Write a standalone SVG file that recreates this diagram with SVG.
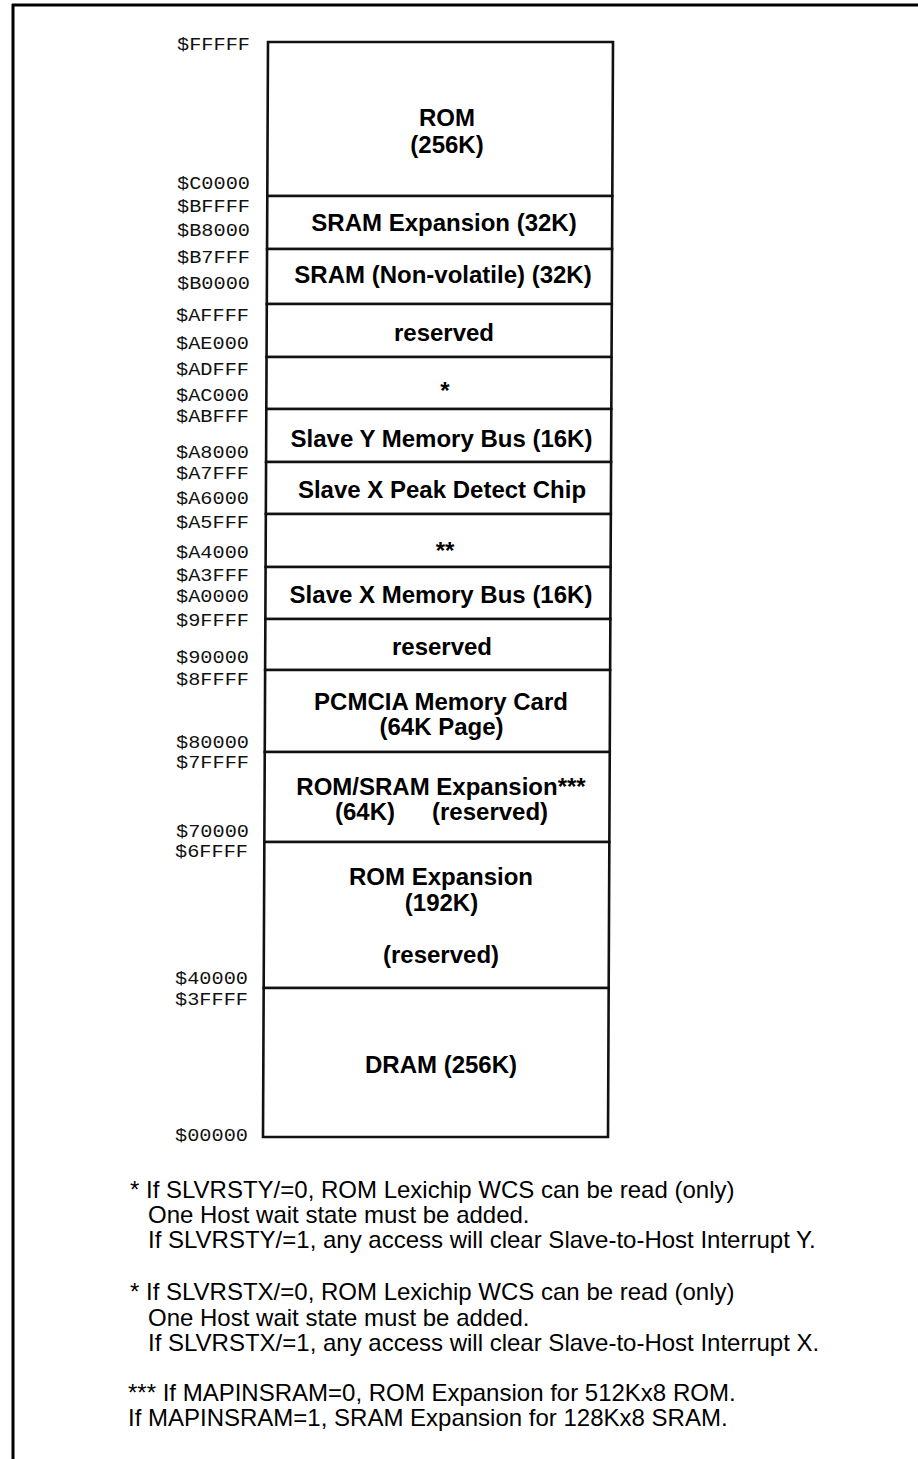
<svg xmlns="http://www.w3.org/2000/svg" width="918" height="1459" viewBox="0 0 918 1459">
<style>
.frame{stroke:#000;stroke-width:3;fill:none}
.reg{fill:#fff;stroke:#111;stroke-width:2.6;stroke-linejoin:miter}
.lbl{font-family:"Liberation Sans",Arial,sans-serif;font-weight:bold;font-size:24px;fill:#000;text-anchor:middle}
.addr{font-family:"Liberation Mono","Courier New",monospace;font-size:18px;fill:#111;text-anchor:end}
.note{font-family:"Liberation Sans",Arial,sans-serif;font-size:24px;fill:#000}
</style>
<rect width="918" height="1459" fill="#fff"/>
<g id="frame">
<line class="frame" x1="12" y1="5" x2="918" y2="5"/>
<line class="frame" x1="13" y1="4" x2="13" y2="1459"/>
</g>
<g id="connectors"></g>
<g id="n-rom"><polygon class="reg" points="268,42 613,42 612.3,196 267.3,196"/>
<text class="lbl" x="447" y="126">ROM</text><text class="lbl" x="447" y="153">(256K)</text></g>
<g id="n-sram-exp"><polygon class="reg" points="267.3,196 612.3,196 612.05,249 267.05,249"/>
<text class="lbl" x="444" y="231">SRAM Expansion (32K)</text></g>
<g id="n-sram-nv"><polygon class="reg" points="267.05,249 612.05,249 611.8,304 266.8,304"/>
<text class="lbl" x="443" y="283">SRAM (Non-volatile) (32K)</text></g>
<g id="n-reserved1"><polygon class="reg" points="266.8,304 611.8,304 611.56,357 266.56,357"/>
<text class="lbl" x="444" y="341">reserved</text></g>
<g id="n-star1"><polygon class="reg" points="266.56,357 611.56,357 611.32,409 266.32,409"/>
<text class="lbl" x="445" y="399">*</text></g>
<g id="n-slave-y"><polygon class="reg" points="266.32,409 611.32,409 611.08,462 266.08,462"/>
<text class="lbl" x="441.5" y="447">Slave Y Memory Bus (16K)</text></g>
<g id="n-peak"><polygon class="reg" points="266.08,462 611.08,462 610.84,514 265.84,514"/>
<text class="lbl" x="442" y="498">Slave X Peak Detect Chip</text></g>
<g id="n-star2"><polygon class="reg" points="265.84,514 610.84,514 610.6,567 265.6,567"/>
<text class="lbl" x="445" y="559">**</text></g>
<g id="n-slave-x"><polygon class="reg" points="265.6,567 610.6,567 610.37,619 265.37,619"/>
<text class="lbl" x="441" y="603">Slave X Memory Bus (16K)</text></g>
<g id="n-reserved2"><polygon class="reg" points="265.37,619 610.37,619 610.13,670 265.13,670"/>
<text class="lbl" x="442" y="655">reserved</text></g>
<g id="n-pcmcia"><polygon class="reg" points="265.13,670 610.13,670 609.76,752 264.76,752"/>
<text class="lbl" x="441" y="710">PCMCIA Memory Card</text><text class="lbl" x="441.5" y="735">(64K Page)</text></g>
<g id="n-romsram"><polygon class="reg" points="264.76,752 609.76,752 609.35,842 264.35,842"/>
<text class="lbl" x="441" y="795">ROM/SRAM Expansion***</text>
<text class="lbl" y="820" style="text-anchor:start"><tspan x="335">(64K)</tspan><tspan x="432">(reserved)</tspan></text></g>
<g id="n-romexp"><polygon class="reg" points="264.35,842 609.35,842 608.68,988 263.68,988"/>
<text class="lbl" x="441" y="885">ROM Expansion</text><text class="lbl" x="441.5" y="911">(192K)</text><text class="lbl" x="441" y="963">(reserved)</text></g>
<g id="n-dram"><polygon class="reg" points="263.68,988 608.68,988 608,1137 263,1137"/>
<text class="lbl" x="441" y="1073">DRAM (256K)</text></g>
<g id="addresses">
<text class="addr" x="250" y="50" textLength="73" lengthAdjust="spacingAndGlyphs">$FFFFF</text>
<text class="addr" x="250" y="189" textLength="73" lengthAdjust="spacingAndGlyphs">$C0000</text>
<text class="addr" x="250" y="212" textLength="73" lengthAdjust="spacingAndGlyphs">$BFFFF</text>
<text class="addr" x="250" y="236" textLength="73" lengthAdjust="spacingAndGlyphs">$B8000</text>
<text class="addr" x="250" y="263" textLength="73" lengthAdjust="spacingAndGlyphs">$B7FFF</text>
<text class="addr" x="250" y="289" textLength="73" lengthAdjust="spacingAndGlyphs">$B0000</text>
<text class="addr" x="249" y="321" textLength="73" lengthAdjust="spacingAndGlyphs">$AFFFF</text>
<text class="addr" x="249" y="349" textLength="73" lengthAdjust="spacingAndGlyphs">$AE000</text>
<text class="addr" x="249" y="375" textLength="73" lengthAdjust="spacingAndGlyphs">$ADFFF</text>
<text class="addr" x="249" y="401" textLength="73" lengthAdjust="spacingAndGlyphs">$AC000</text>
<text class="addr" x="249" y="422" textLength="73" lengthAdjust="spacingAndGlyphs">$ABFFF</text>
<text class="addr" x="249" y="458" textLength="73" lengthAdjust="spacingAndGlyphs">$A8000</text>
<text class="addr" x="249" y="479" textLength="73" lengthAdjust="spacingAndGlyphs">$A7FFF</text>
<text class="addr" x="249" y="504" textLength="73" lengthAdjust="spacingAndGlyphs">$A6000</text>
<text class="addr" x="249" y="528" textLength="73" lengthAdjust="spacingAndGlyphs">$A5FFF</text>
<text class="addr" x="249" y="558" textLength="73" lengthAdjust="spacingAndGlyphs">$A4000</text>
<text class="addr" x="249" y="581" textLength="73" lengthAdjust="spacingAndGlyphs">$A3FFF</text>
<text class="addr" x="249" y="602" textLength="73" lengthAdjust="spacingAndGlyphs">$A0000</text>
<text class="addr" x="249" y="626" textLength="73" lengthAdjust="spacingAndGlyphs">$9FFFF</text>
<text class="addr" x="249" y="663" textLength="73" lengthAdjust="spacingAndGlyphs">$90000</text>
<text class="addr" x="249" y="685" textLength="73" lengthAdjust="spacingAndGlyphs">$8FFFF</text>
<text class="addr" x="249" y="748" textLength="73" lengthAdjust="spacingAndGlyphs">$80000</text>
<text class="addr" x="249" y="768" textLength="73" lengthAdjust="spacingAndGlyphs">$7FFFF</text>
<text class="addr" x="249" y="837" textLength="73" lengthAdjust="spacingAndGlyphs">$70000</text>
<text class="addr" x="248" y="857" textLength="73" lengthAdjust="spacingAndGlyphs">$6FFFF</text>
<text class="addr" x="248" y="984" textLength="73" lengthAdjust="spacingAndGlyphs">$40000</text>
<text class="addr" x="248" y="1005" textLength="73" lengthAdjust="spacingAndGlyphs">$3FFFF</text>
<text class="addr" x="248" y="1141" textLength="73" lengthAdjust="spacingAndGlyphs">$00000</text>
</g>
<g id="notes">
<text class="note" x="130" y="1198">* If SLVRSTY/=0, ROM Lexichip WCS can be read (only)</text>
<text class="note" x="148" y="1223">One Host wait state must be added.</text>
<text class="note" x="148" y="1248">If SLVRSTY/=1, any access will clear Slave-to-Host Interrupt Y.</text>
<text class="note" x="130" y="1300">* If SLVRSTX/=0, ROM Lexichip WCS can be read (only)</text>
<text class="note" x="148" y="1326">One Host wait state must be added.</text>
<text class="note" x="148" y="1351">If SLVRSTX/=1, any access will clear Slave-to-Host Interrupt X.</text>
<text class="note" x="128" y="1401">*** If MAPINSRAM=0, ROM Expansion for 512Kx8 ROM.</text>
<text class="note" x="128" y="1426">If MAPINSRAM=1, SRAM Expansion for 128Kx8 SRAM.</text>
</g>
</svg>
